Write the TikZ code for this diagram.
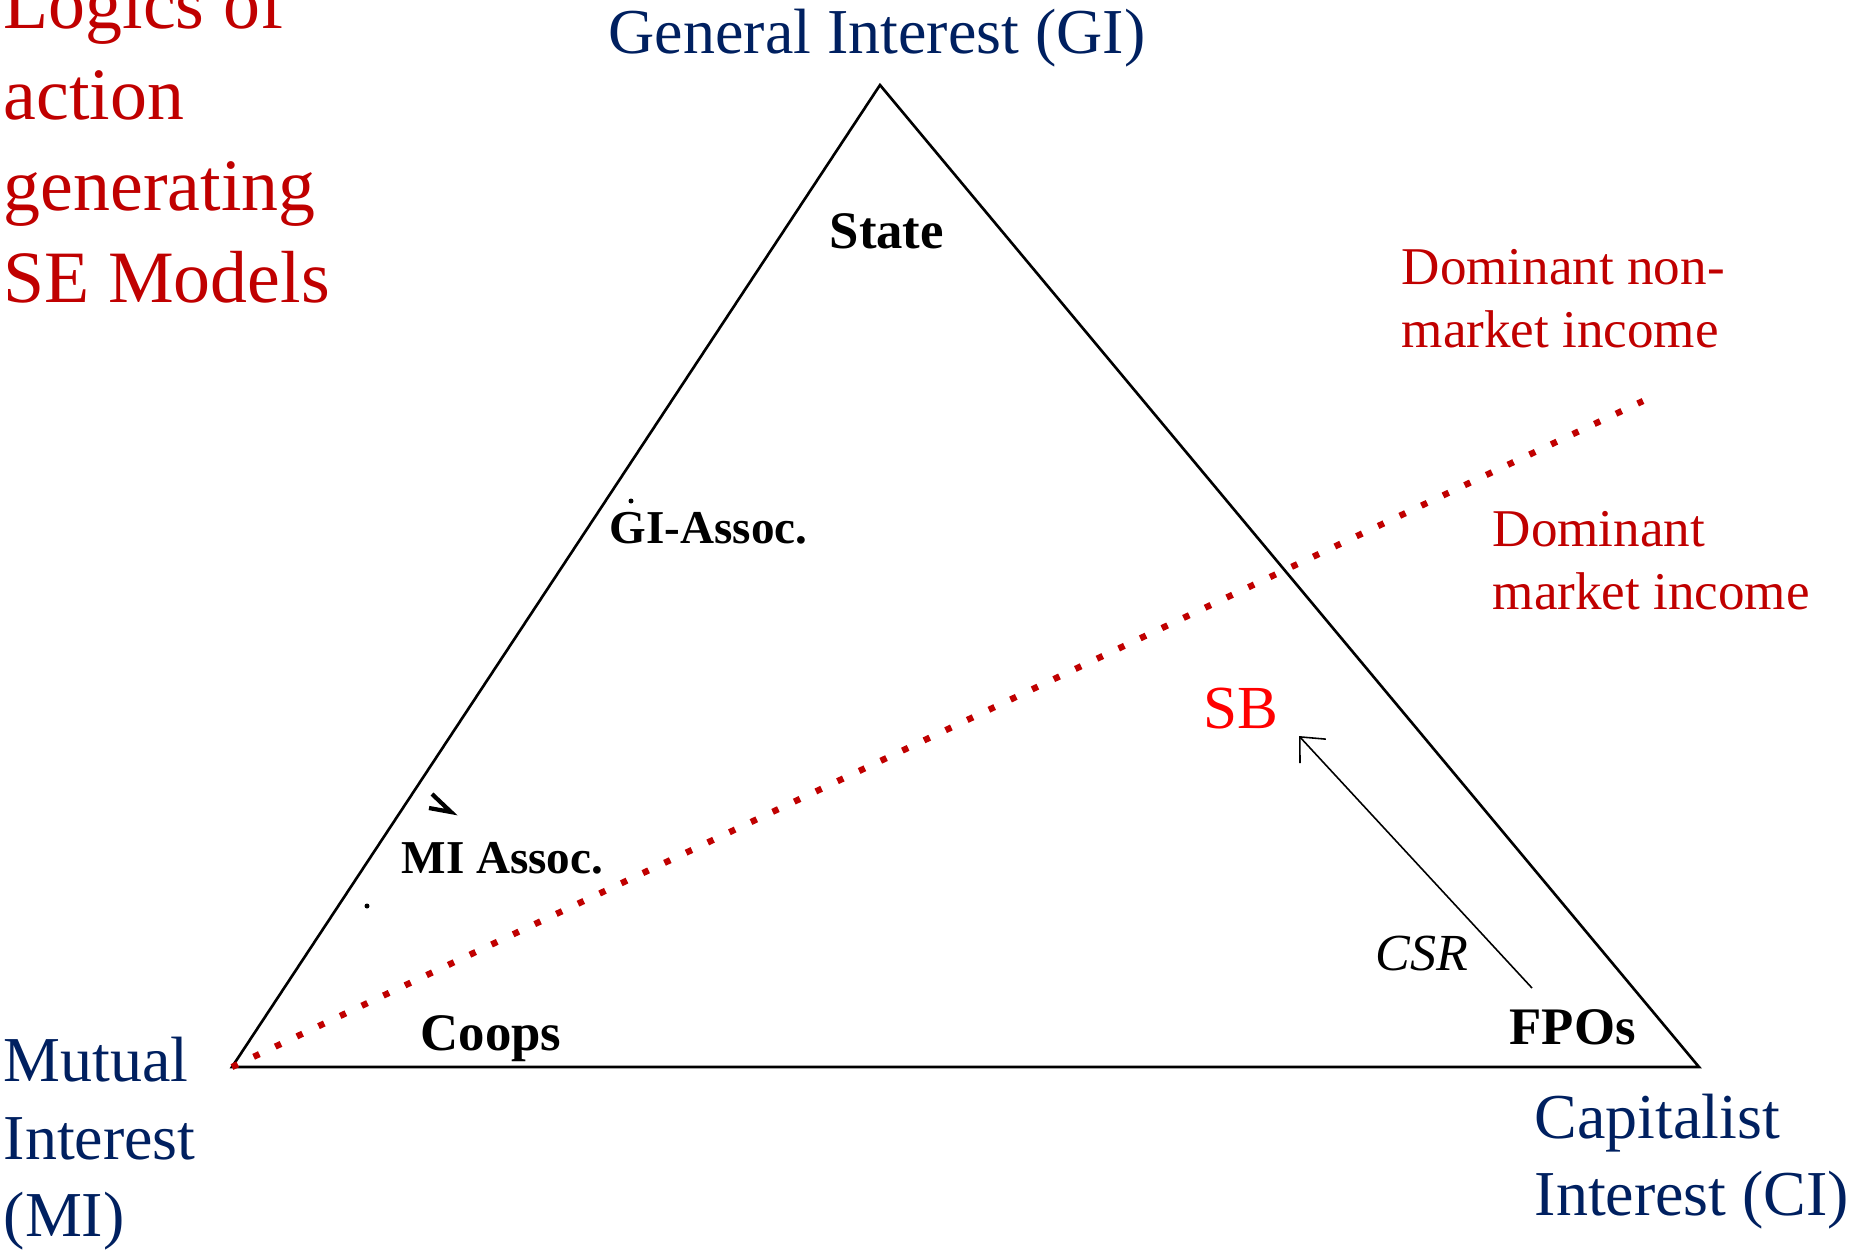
\documentclass[tikz,border=0pt]{standalone}
\usepackage{fontspec}
\setmainfont{Liberation Serif}
\usepackage{xcolor}
\usetikzlibrary{arrows.meta, positioning, calc}
\definecolor{navy}{HTML}{002060}
\definecolor{darkred}{HTML}{C00000}

\begin{document}
\begin{tikzpicture}[x=0.01cm, y=-0.01cm]
\tikzstyle{pole} = [anchor=base west, inner sep=0, align=left, text=navy, font=\fontsize{18.2}{21.9}\selectfont]
\tikzstyle{income} = [anchor=base west, inner sep=0, align=left, text=darkred, font=\fontsize{15.1}{17.9}\selectfont]
\tikzstyle{model} = [anchor=base west, inner sep=0, font=\bfseries\fontsize{15}{18}\selectfont]
\tikzstyle{assoc} = [anchor=base west, inner sep=0, font=\bfseries\fontsize{13.4}{16}\selectfont]
\tikzstyle{arrow} = [line width=0.45pt,-{Straight Barb[length=5.5pt,width=10pt]}]
\useasboundingbox (0,0) rectangle (1850,1250);

% poles of the triangle
\coordinate (gi) at (880,85);
\coordinate (mi) at (232,1067);
\coordinate (ci) at (1699,1067);
\draw[line width=0.75pt, line join=miter] (gi) -- (mi) -- (ci) -- cycle;

% multi-line nodes sit on their last baseline
\node[pole] (gilabel) at (608,53) {General Interest (GI)};
\node[pole] (milabel) at (3,1236) {Mutual\\Interest\\(MI)};
\node[pole] (cilabel) at (1534,1215) {Capitalist\\Interest (CI)};

\node[anchor=base west, inner sep=0, align=left, text=darkred, font=\fontsize{21}{25.9}\selectfont] (title) at (3,302) {Logics of\\action\\generating\\SE Models};

% market / non-market divide
\coordinate (divide) at (1643,401);
\draw[darkred, line width=1.8pt, dash pattern=on 1.8pt off 5pt] (mi) -- (divide);
\node[income] (nonmarket) at (1401,347) {Dominant non-\\market income};
\node[income] (market) at (1492,609) {Dominant\\market income};

% organisations
\node[model] (state) at (829,248) {State};
\node[assoc] (giassoc) at (609,543) {GI-Assoc.};
\node[assoc] (miassoc) at (401,873) {MI Assoc.};
\node[model] (coops) at (420,1050) {Coops};
\node[model] (fpos) at (1509,1044) {FPOs};
\node[anchor=base west, inner sep=0, text=red, font=\fontsize{17.4}{20}\selectfont] (sb) at (1203,728) {SB};

\fill (631,501) circle (2.5);
\fill (367,906) circle (2.5);
\draw[line width=1.2pt] (432,794) -- (451,812) -- (429,808);

\coordinate (csrstart) at (1532,988);
\coordinate (csrend) at (1299,736);
\draw[arrow] (csrstart) -- (csrend);
\node[anchor=base west, inner sep=0, font=\itshape\fontsize{14.8}{18}\selectfont] (csr) at (1375,970) {CSR};
\end{tikzpicture}
\end{document}
